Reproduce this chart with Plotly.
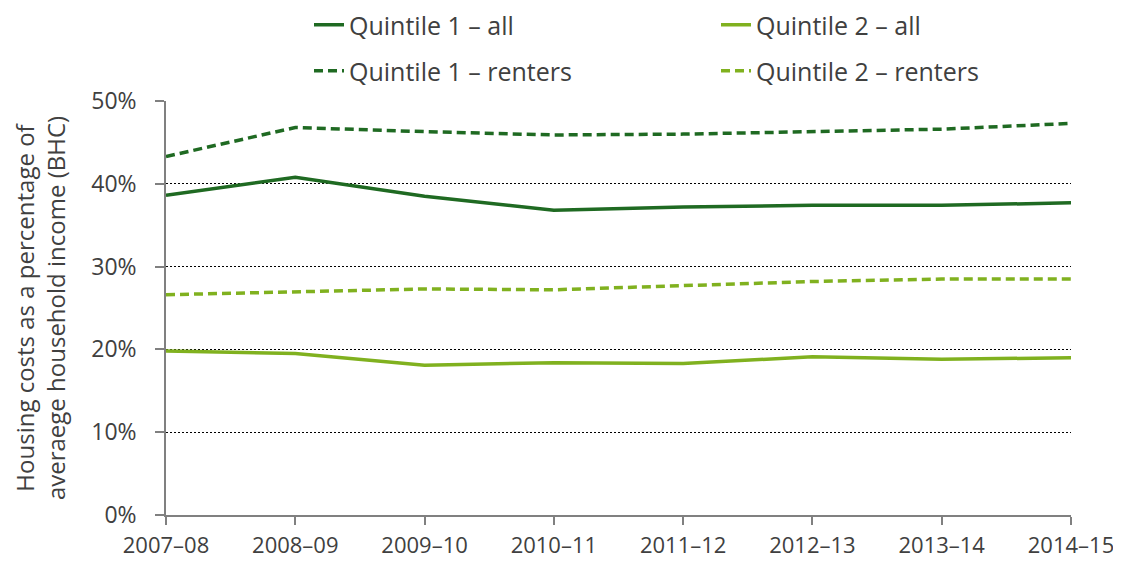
import plotly.graph_objects as go

years = ["2007–08", "2008–09", "2009–10", "2010–11", "2011–12", "2012–13", "2013–14", "2014–15"]
q1_all = [38.6, 40.8, 38.5, 36.8, 37.2, 37.4, 37.4, 37.7]
q2_all = [19.8, 19.5, 18.1, 18.4, 18.3, 19.1, 18.8, 19.0]
q1_renters = [43.3, 46.8, 46.3, 45.9, 46.0, 46.3, 46.6, 47.3]
q2_renters = [26.6, 27.0, 27.3, 27.2, 27.7, 28.2, 28.5, 28.5]

dark = "#1F6A22"
light = "#80B11F"
font_family = "Open Sans, Noto Sans, sans-serif"
text_col = "#404040"
# page body has an 8px margin, so the figure is sized to fit the remaining window
W, H = 1113, 554

fig = go.Figure()
fig.add_trace(go.Scatter(x=years, y=q1_all, mode="lines", name="Quintile 1 – all",
                         line=dict(color=dark, width=3.5), legend="legend"))
fig.add_trace(go.Scatter(x=years, y=q2_all, mode="lines", name="Quintile 2 – all",
                         line=dict(color=light, width=3.5), legend="legend2"))
fig.add_trace(go.Scatter(x=years, y=q1_renters, mode="lines", name="Quintile 1 – renters",
                         line=dict(color=dark, width=3.5, dash="9px,5px"), legend="legend3"))
fig.add_trace(go.Scatter(x=years, y=q2_renters, mode="lines", name="Quintile 2 – renters",
                         line=dict(color=light, width=3.5, dash="9px,5px"), legend="legend4"))


def leg(xpx, ypx):
    return dict(orientation="h", xref="container", yref="container",
                x=xpx / W, y=1 - ypx / H, xanchor="left", yanchor="middle",
                font=dict(family=font_family, size=25, color=text_col),
                bgcolor="rgba(0,0,0,0)", itemclick=False, itemdoubleclick=False,
                borderwidth=0)


fig.update_layout(
    width=W, height=H,
    margin=dict(l=158, r=50, t=93, b=47, autoexpand=False),
    paper_bgcolor="white", plot_bgcolor="white",
    font=dict(family=font_family, size=23, color=text_col),
    showlegend=True,
    legend=leg(301, 17),
    legend2=leg(708, 17),
    legend3=leg(301, 63),
    legend4=leg(708, 63),
    xaxis=dict(
        type="category", range=[0, 7], showgrid=False, zeroline=False, automargin=False,
        showline=True, linecolor="#808080", linewidth=1.5,
        ticks="outside", ticklen=8, tickcolor="#808080", tickwidth=1.5,
        ticklabelstandoff=2,
        tickfont=dict(size=22, color=text_col),
    ),
    yaxis=dict(
        range=[0, 50], dtick=10, ticksuffix="%", zeroline=False, automargin=False,
        showgrid=True, gridcolor="black", gridwidth=1, griddash="2px,2px",
        showline=True, linecolor="#808080", linewidth=1.5,
        ticks="outside", ticklen=9, tickcolor="#808080", tickwidth=1.5,
        ticklabelstandoff=14,
        tickfont=dict(size=23, color=text_col),
        title=dict(text="Housing costs as a percentage of<br>averaege household income (BHC)",
                   font=dict(size=24, color=text_col), standoff=22),
    ),
)

fig.write_html("out.html")
